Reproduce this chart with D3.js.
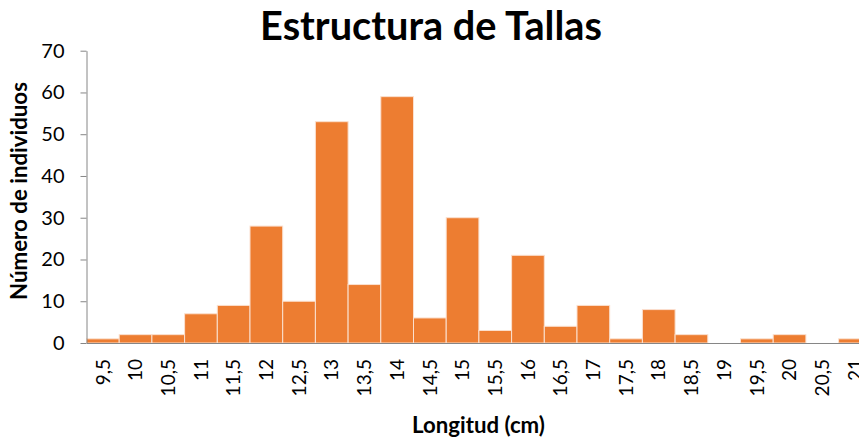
<!DOCTYPE html>
<html>
<head>
<meta charset="utf-8">
<script src="https://cdn.jsdelivr.net/npm/d3@7"></script>
<style>
  html, body { margin: 0; padding: 0; background: #fff; }
  svg { display: block; }
  text { font-family: Lato, "Open Sans", sans-serif; fill: #000; }
</style>
</head>
<body>
<svg id="chart" width="859" height="437"></svg>
<script>
const categories = ["9,5","10","10,5","11","11,5","12","12,5","13","13,5","14","14,5","15","15,5","16","16,5","17","17,5","18","18,5","19","19,5","20","20,5","21"];
const counts = [1,2,2,7,9,28,10,53,14,59,6,30,3,21,4,9,1,8,2,0,1,2,0,1];
const yTicks = [0,10,20,30,40,50,60,70];
const titleText = "Estructura de Tallas";
const xTitleText = "Longitud (cm)";
const yTitleText = "Número de individuos";

const data = categories.map((c, i) => ({ cat: c, value: counts[i] }));

const svg = d3.select("#chart");
const plotLeft = 86.5, plotBottom = 343, plotTop = 50.7, bandW = 32.7;
const plotRight = plotLeft + bandW * categories.length;

const x = d3.scaleBand().domain(categories).range([plotLeft, plotRight]).padding(0);
const y = d3.scaleLinear().domain([0, 70]).range([plotBottom, plotTop]);

function fit(sel, target) {
  const fs = parseFloat(sel.style("font-size"));
  const w = sel.node().getComputedTextLength();
  if (w > 0) sel.style("font-size", (fs * target / w) + "px");
}

// bars
svg.append("g").selectAll("rect").data(data.filter(d => d.value > 0)).join("rect")
  .attr("x", d => x(d.cat))
  .attr("y", d => y(d.value))
  .attr("width", x.bandwidth())
  .attr("height", d => y(0) - y(d.value))
  .attr("fill", "#ED7D31")
  .attr("stroke", "#fbe0cf")
  .attr("stroke-width", 1);

// y axis
const yAxis = svg.append("g").attr("transform", `translate(${plotLeft},0)`)
  .call(d3.axisLeft(y).tickValues(yTicks).tickSize(6).tickPadding(16).tickSizeOuter(0));
yAxis.select(".domain").attr("stroke", "#868686");
yAxis.selectAll(".tick line").attr("stroke", "#868686");
yAxis.selectAll(".tick text").style("font-size", "20px").style("font-family", "Lato, sans-serif").attr("fill", "#000");

// x axis
const xAxis = svg.append("g").attr("transform", `translate(0,${plotBottom})`)
  .call(d3.axisBottom(x).tickSize(0).tickPadding(0).tickSizeOuter(0));
xAxis.select(".domain").attr("stroke", "#868686");
xAxis.selectAll(".tick text")
  .style("font-size", "19px").style("font-family", "Lato, sans-serif").attr("fill", "#000")
  .attr("text-anchor", "end")
  .attr("transform", "rotate(-90)")
  .attr("x", -16).attr("y", 0).attr("dy", "0.35em");

// title
const t = svg.append("text").text(titleText)
  .attr("x", 431).attr("y", 39.5).attr("text-anchor", "middle")
  .style("font-weight", "bold").style("font-size", "37px");
fit(t, 342);

const xt = svg.append("text").text(xTitleText)
  .attr("x", 478.5).attr("y", 433).attr("text-anchor", "middle")
  .style("font-weight", "bold").style("font-size", "18px");
fit(xt, 133);

const yt = svg.append("text").text(yTitleText)
  .attr("transform", "translate(27,191) rotate(-90)").attr("text-anchor", "middle")
  .style("font-weight", "bold").style("font-size", "18px");
fit(yt, 218);
</script>
</body>
</html>
